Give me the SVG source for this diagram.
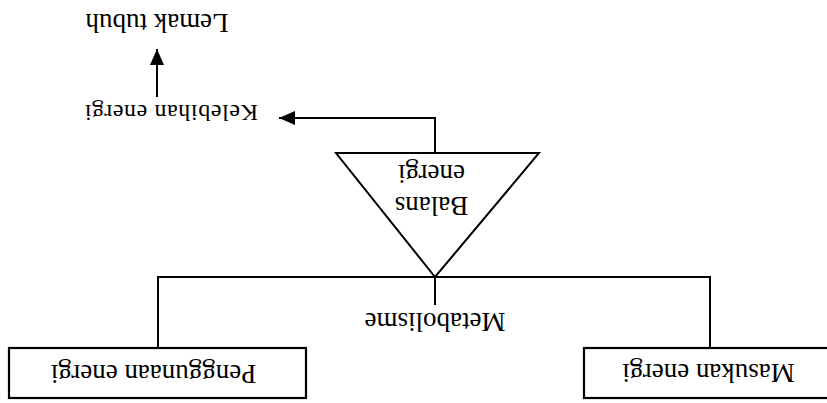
<svg xmlns="http://www.w3.org/2000/svg" width="827" height="403" viewBox="0 0 827 403">
<style>
.ln{fill:none;stroke:#000;stroke-width:2}
.bx{fill:#fff;stroke:#000;stroke-width:2.2}
.t{font-family:"Liberation Serif","Times New Roman",serif;font-size:27px;fill:#000;text-anchor:middle}
</style>
<defs>
<marker id="ah" viewBox="0 0 16 14" refX="16" refY="7" markerWidth="16" markerHeight="14" markerUnits="userSpaceOnUse" orient="auto">
<path d="M0,0 L16,7 L0,14 z" fill="#000"/>
</marker>
</defs>
<rect width="827" height="403" fill="#fff"/>
<g id="connectors">
<path class="ln" d="M158,348 V277 H710 V348"/>
<path class="ln" d="M435,277 V305"/>
<path class="ln" d="M435,153 V118 H279" marker-end="url(#ah)"/>
<path class="ln" d="M157,97 V49" marker-end="url(#ah)"/>
</g>
<g id="penggunaan">
<rect class="bx" x="9" y="348" width="297" height="50"/>
<g transform="translate(153.5,365) rotate(180)"><text class="t" x="0" y="0">Penggunaan energi</text></g>
</g>
<g id="masukan">
<rect class="bx" x="584" y="348" width="260" height="50"/>
<g transform="translate(708.5,364) rotate(180)"><text class="t" x="0" y="0">Masukan energi</text></g>
</g>
<g id="metabolisme">
<g transform="translate(435,313) rotate(180)"><text class="t" x="0" y="0">Metabolisme</text></g>
</g>
<g id="balans">
<path class="ln" d="M336,153 H539 L435,277 Z"/>
<g transform="translate(431.5,197) rotate(180)"><text class="t" x="0" y="0">Balans</text></g>
<g transform="translate(431.5,165) rotate(180)"><text class="t" x="0" y="0">energi</text></g>
</g>
<g id="kelebihan">
<g transform="translate(171,105) rotate(180)"><text class="t" x="0" y="0" style="font-size:24px;letter-spacing:0.6px">Kelebihan energi</text></g>
</g>
<g id="lemak">
<g transform="translate(157,14) rotate(180)"><text class="t" x="0" y="0">Lemak tubuh</text></g>
</g>
</svg>
